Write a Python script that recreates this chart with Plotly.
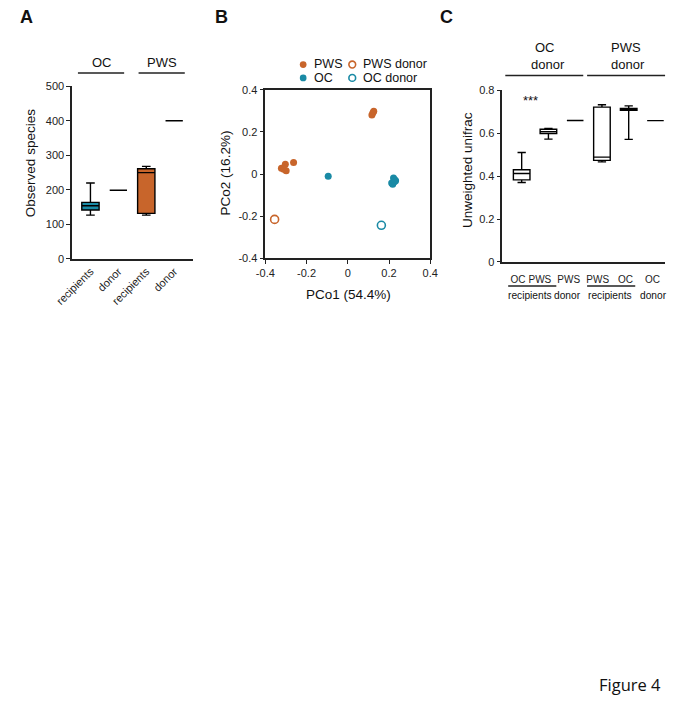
import plotly.graph_objects as go

# the page body has an 8px margin, so the figure is drawn 8px smaller and positions are shifted
PAGE_W, PAGE_H = 675, 703
OFF = 8
W, H = PAGE_W - OFF, PAGE_H - OFF
orange = '#c8652b'
teal = '#1a8aa5'
font = 'Liberation Sans, Arial, sans-serif'

# panel A - observed species (box stats)
a_labels = ['recipients', 'donor', 'recipients', 'donor']
a_lower = [127, 199, 127, 400]
a_q1 = [142, 199, 132, 400]
a_median = [154, 199, 250, 400]
a_q3 = [164, 199, 261, 400]
a_upper = [220, 199, 268, 400]
a_fill = [teal, 'rgba(0,0,0,0)', orange, 'rgba(0,0,0,0)']

# panel B - PCoA
pws_x = [0.117, 0.122, 0.126, -0.322, -0.303, -0.311, -0.299, -0.263]
pws_y = [0.280, 0.290, 0.298, 0.027, 0.046, 0.023, 0.015, 0.055]
oc_x = [-0.095, 0.222, 0.232, 0.213, 0.218, 0.226, 0.229]
oc_y = [-0.010, -0.019, -0.032, -0.043, -0.049, -0.036, -0.028]
pws_donor_x = [-0.355]
pws_donor_y = [-0.215]
oc_donor_x = [0.163]
oc_donor_y = [-0.243]

# panel C - unweighted unifrac
c_labels = ['OC', 'PWS', 'PWS', 'PWS', 'OC', 'OC']
c_lower = [0.370, 0.572, 0.659, 0.466, 0.571, 0.658]
c_q1 = [0.382, 0.598, 0.659, 0.473, 0.706, 0.658]
c_median = [0.412, 0.607, 0.659, 0.488, 0.711, 0.658]
c_q3 = [0.429, 0.618, 0.659, 0.721, 0.715, 0.658]
c_upper = [0.510, 0.622, 0.659, 0.732, 0.727, 0.658]
c_groups = ['recipients', 'donor', 'recipients', 'donor']

# label placement for panel C (labels sit slightly left of the boxes in the original)
c_label_pos = [-0.14, 0.68, 1.76, 2.84, 3.88, 4.89]
c_group_pos = [0.32, 1.73, 3.31, 4.94]


def fx(p):
    return (p - OFF) / W


def fy(p):
    return 1 - (p - OFF) / H


fig = go.Figure()

for i in range(len(a_labels)):
    fig.add_trace(go.Box(x=[i], q1=[a_q1[i]], median=[a_median[i]], q3=[a_q3[i]],
                         lowerfence=[a_lower[i]], upperfence=[a_upper[i]],
                         fillcolor=a_fill[i], line=dict(color='black', width=1.4),
                         width=0.62, whiskerwidth=0.5, showlegend=False,
                         hoverinfo='skip', xaxis='x', yaxis='y'))

fig.add_trace(go.Scatter(x=pws_x, y=pws_y, mode='markers', name='PWS',
                         marker=dict(color=orange, size=7), xaxis='x2', yaxis='y2'))
fig.add_trace(go.Scatter(x=pws_donor_x, y=pws_donor_y, mode='markers', name='PWS donor',
                         marker=dict(color=orange, size=8, symbol='circle-open', line=dict(width=1.6)),
                         xaxis='x2', yaxis='y2'))
fig.add_trace(go.Scatter(x=oc_x, y=oc_y, mode='markers', name='OC',
                         marker=dict(color=teal, size=7), xaxis='x2', yaxis='y2'))
fig.add_trace(go.Scatter(x=oc_donor_x, y=oc_donor_y, mode='markers', name='OC donor',
                         marker=dict(color=teal, size=8, symbol='circle-open', line=dict(width=1.6)),
                         xaxis='x2', yaxis='y2'))

for i in range(len(c_labels)):
    fig.add_trace(go.Box(x=[i], q1=[c_q1[i]], median=[c_median[i]], q3=[c_q3[i]],
                         lowerfence=[c_lower[i]], upperfence=[c_upper[i]],
                         fillcolor='white', line=dict(color='black', width=1.4),
                         width=0.62, whiskerwidth=0.5, showlegend=False,
                         hoverinfo='skip', xaxis='x3', yaxis='y3'))

axis_common = dict(showgrid=False, zeroline=False, showline=True, linecolor='#222',
                   linewidth=1.5, tickfont=dict(family=font, size=11, color='#222'),
                   tickcolor='#222', ticklen=4, tickwidth=1.2)

fig.update_layout(
    width=W, height=H,
    margin=dict(l=0, r=0, t=0, b=0),
    paper_bgcolor='white', plot_bgcolor='white',
    font=dict(family=font, color='#222'),
    showlegend=False,
    xaxis=dict(axis_common, domain=[fx(57), fx(183)], range=[-0.655, 3.69],
               tickvals=list(range(4)), ticktext=a_labels, ticks='', tickangle=-45,
               anchor='y'),
    yaxis=dict(axis_common, domain=[fy(257.3), fy(81.5)], range=[0, 500],
               tickvals=[0, 100, 200, 300, 400, 500], ticks='outside', anchor='x'),
    xaxis2=dict(axis_common, domain=[fx(257.7), fx(429)], range=[-0.4, 0.4],
                tickvals=[-0.4, -0.2, 0, 0.2, 0.4], ticktext=['-0.4', '-0.2', '0', '0.2', '0.4'],
                ticks='outside', mirror=True, anchor='y2'),
    yaxis2=dict(axis_common, domain=[fy(256.7), fy(85)], range=[-0.4, 0.4],
                tickvals=[-0.4, -0.2, 0, 0.2, 0.4], ticktext=['-0.4', '-0.2', '0', '0.2', '0.4'],
                ticks='outside', mirror=True, anchor='x2'),
    xaxis3=dict(axis_common, domain=[fx(504), fx(673)], range=[-0.72, 5.36],
                tickvals=c_label_pos, ticktext=c_labels, ticks='', tickangle=0,
                ticklabelstandoff=7, tickfont=dict(family=font, size=10, color='#222'),
                anchor='y3'),
    yaxis3=dict(axis_common, domain=[fy(260.3), fy(85.5)], range=[0, 0.8],
                tickvals=[0, 0.2, 0.4, 0.6, 0.8], ticktext=['0', '0.2', '0.4', '0.6', '0.8'],
                ticks='outside', anchor='x3'),
)

ann = []


def text(x, y, s, size=13, angle=0, bold=False, xanchor='center', fam=font, xref='paper'):
    ann.append(dict(x=fx(x) if xref == 'paper' else x, y=fy(y), xref=xref, yref='paper',
                    text=f'<b>{s}</b>' if bold else s,
                    showarrow=False, textangle=angle, xanchor=xanchor, yanchor='middle',
                    font=dict(family=fam, size=size, color='#111')))


# panel letters
text(1, 11, 'A', size=18, bold=True, xanchor='left')
text(203, 11, 'B', size=18, bold=True, xanchor='left')
text(437, 11, 'C', size=18, bold=True, xanchor='left')

# panel A headers and title
text(87.5, 57, 'OC')
text(150.5, 57, 'PWS')
text(14, 160, 'Observed species', size=13.5, angle=-90)

# panel B titles and legend text
text(344, 293, 'PCo1 (54.4%)', size=13.5)
text(216, 170, 'PCo2 (16.2%)', size=13.5, angle=-90)
text(306, 59.2, 'PWS', size=12.5, xanchor='left')
text(357, 59.2, 'PWS donor', size=12.5, xanchor='left')
text(306, 73.4, 'OC', size=12.5, xanchor='left')
text(357, 73.4, 'OC donor', size=12.5, xanchor='left')

# panel C
text(467, 167, 'Unweighted unifrac', size=13.5, angle=-90)
text(548, 42, 'OC')
text(551, 59, 'donor')
text(632.5, 42, 'PWS')
text(634, 59, 'donor')
text(533, 96, '***', size=13)
for g, pos in zip(c_groups, c_group_pos):
    text(pos, 294.5, g, size=10.2, xref='x3')

text(671, 690, 'Figure 4', size=16.5, xanchor='right', fam='Open Sans, sans-serif')

fig.update_layout(annotations=ann)

shapes = []
for x0, x1, y in [(63, 111, 68), (126, 174, 68), (507, 588, 70.7), (592, 673, 70.7),
                  (510, 560, 284.7), (592, 642, 284.7)]:
    shapes.append(dict(type='line', xref='paper', yref='paper', x0=fx(x0), x1=fx(x1),
                       y0=fy(y), y1=fy(y), line=dict(color='#222', width=1.5)))

# legend symbols for panel B
for cx, cy, col, filled in [(297, 59.5, orange, True), (348, 59.5, orange, False),
                            (297, 73, teal, True), (348, 73, teal, False)]:
    r = 3.5
    shapes.append(dict(type='circle', xref='paper', yref='paper',
                       x0=fx(cx - r), x1=fx(cx + r), y0=fy(cy + r), y1=fy(cy - r),
                       fillcolor=col if filled else 'white',
                       line=dict(color=col, width=0 if filled else 1.6)))
fig.update_layout(shapes=shapes)

fig.write_html('out.html')
